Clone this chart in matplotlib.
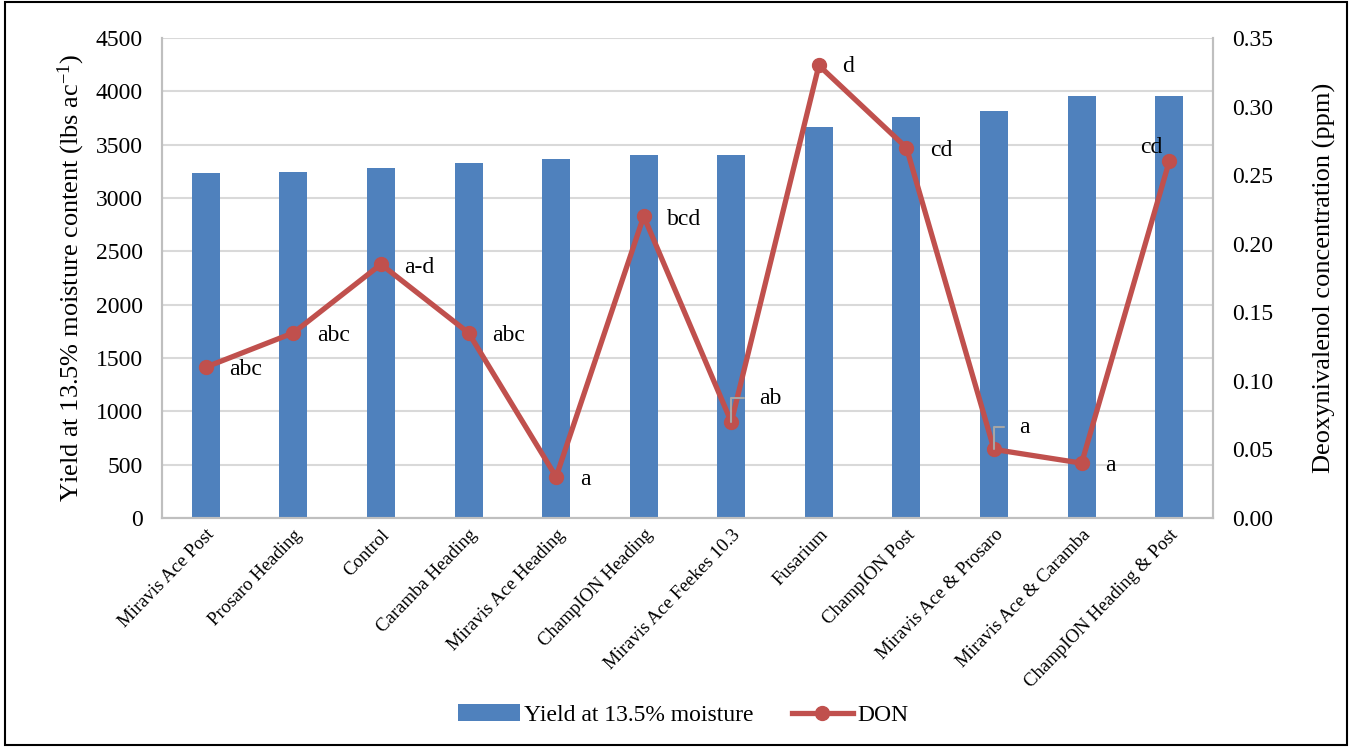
import matplotlib
matplotlib.use("Agg")
import matplotlib.pyplot as plt
from matplotlib.patches import Rectangle

# data
treatments = [
    "Miravis Ace Post", "Prosaro Heading", "Control", "Caramba Heading",
    "Miravis Ace Heading", "ChampION Heading", "Miravis Ace Feekes 10.3",
    "Fusarium", "ChampION Post", "Miravis Ace & Prosaro",
    "Miravis Ace & Caramba", "ChampION Heading & Post",
]
yield_lbs = [3230, 3240, 3285, 3325, 3370, 3400, 3400, 3665, 3755, 3815, 3960, 3960]
don_ppm = [0.110, 0.135, 0.185, 0.135, 0.030, 0.220, 0.070, 0.330, 0.270, 0.050, 0.040, 0.260]
letters = ["abc", "abc", "a-d", "abc", "a", "bcd", "ab", "d", "cd", "a", "a", "cd"]

# label placement in points (dx, dy, ha, leader line)
label_pos = [
    (17, -2, "left", False), (17, -2, "left", False), (17, -2, "left", False),
    (17, -2, "left", False), (17, -2, "left", False), (17, -2, "left", False),
    (20, 17, "left", True), (17, -1, "left", False), (17, -2, "left", False),
    (18, 16, "left", True), (17, -2, "left", False), (-5, 10, "right", False),
]

BAR = "#4F81BD"
LINE = "#C0504D"
GRID = "#D9D9D9"
SPINE = "#BFBFBF"

plt.rcParams["font.family"] = ["Liberation Serif", "DejaVu Serif"]
plt.rcParams["mathtext.fontset"] = "custom"
plt.rcParams["mathtext.rm"] = "Liberation Serif"
plt.rcParams["mathtext.it"] = "Liberation Serif:italic"

fig = plt.figure(figsize=(13.51, 7.47), dpi=100)
ax = fig.add_axes([162 / 1351, 1 - 518 / 747, (1213 - 162) / 1351, 480 / 747])
ax2 = ax.twinx()

x = list(range(len(treatments)))
ax.bar(x, yield_lbs, width=0.32, color=BAR, zorder=2, label="Yield at 13.5% moisture")
ax.set_ylim(0, 4500)
ax.set_yticks(range(0, 4501, 500))
ax.set_xlim(-0.5, len(treatments) - 0.5)
ax.yaxis.grid(True, color=GRID, linewidth=1.5, zorder=0)
ax.set_axisbelow(True)
ax.set_xticks(x)
ax.set_xticklabels(treatments, rotation=46, ha="right", va="top",
                   rotation_mode="anchor", fontsize=13.5)
ax.tick_params(axis="x", length=0, pad=6)
ax.tick_params(axis="y", length=0, labelsize=17, pad=14)
ax.set_ylabel("Yield at 13.5% moisture content (lbs ac$^{\\mathrm{-1}}$)", fontsize=19, labelpad=6)

ax2.plot(x, don_ppm, color=LINE, linewidth=3.8, marker="o", markersize=10,
         zorder=3, label="DON")
ax2.set_ylim(0, 0.35)
ax2.set_yticks([i * 0.05 for i in range(8)])
ax2.set_yticklabels([f"{i * 0.05:.2f}" for i in range(8)])
ax2.tick_params(axis="y", length=0, labelsize=17, pad=14)
ax2.set_ylabel("Deoxynivalenol concentration (ppm)", fontsize=19, labelpad=28)

for a in (ax, ax2):
    a.spines["top"].set_visible(False)
    for s in ("left", "right", "bottom"):
        a.spines[s].set_color(SPINE)
        a.spines[s].set_linewidth(1.5)

for xi, yi, txt, (dx, dy, ha, lead) in zip(x, don_ppm, letters, label_pos):
    if lead:
        ax2.annotate(txt, (xi, yi), xytext=(dx, dy), textcoords="offset points",
                     ha=ha, va="center", fontsize=17,
                     arrowprops=dict(arrowstyle="-", color="#A6A6A6", lw=1.5,
                                     connectionstyle="angle,angleA=0,angleB=90,rad=0",
                                     shrinkA=9, shrinkB=0))
    else:
        ax2.annotate(txt, (xi, yi), xytext=(dx, dy), textcoords="offset points",
                     ha=ha, va="center", fontsize=17)

h1, l1 = ax.get_legend_handles_labels()
h2, l2 = ax2.get_legend_handles_labels()
fig.legend(h1 + h2, l1 + l2, loc="center", bbox_to_anchor=(0.506, 1 - 715 / 747),
           ncol=2, frameon=False, fontsize=17, handlelength=2.6,
           handletextpad=0.2, columnspacing=1.6)

fig.patches.append(Rectangle((0.004, 0.003), 0.993, 0.994, transform=fig.transFigure,
                             fill=False, edgecolor="black", linewidth=1.5))

fig.savefig("out.png", dpi=100)
